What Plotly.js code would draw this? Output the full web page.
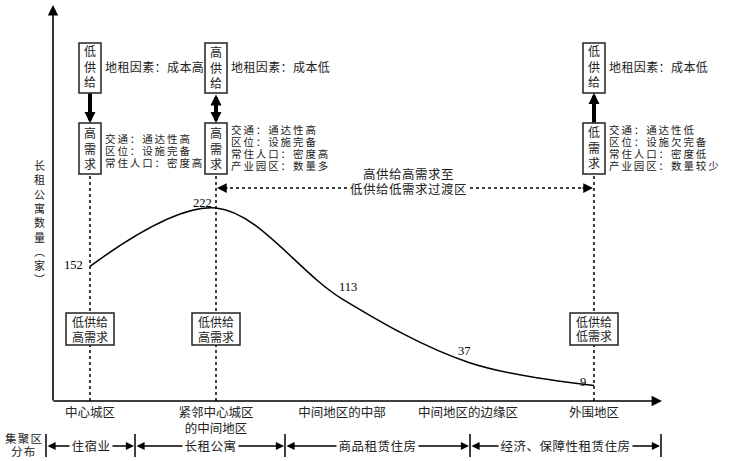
<!DOCTYPE html>
<html><head><meta charset="utf-8">
<script src="https://cdn.plot.ly/plotly-3.0.1.min.js"></script>
<style>html,body{margin:0;padding:0;background:#fff}</style>
</head><body>
<div id="chart" style="width:737px;height:461px"></div>
<script>
// ---------------- data ----------------
const regions = ['中心城区', '紧邻中心城区<br>的中间地区', '中间地区的中部', '中间地区的边缘区', '外围地区'];
const apartmentCounts = [152, 222, 113, 37, 9];
const yTitleText = '长租公寓数量︵家︶';
const zoneLabels = ['住宿业', '长租公寓', '商品租赁住房', '经济、保障性租赁住房'];
const zoneTitle = ['集聚区', '分布'];
const supplyTop = ['低供给', '高供给', '低供给'];
const demandTop = ['高需求', '高需求', '低需求'];
const rentNotes = ['地租因素：成本高', '地租因素：成本低', '地租因素：成本低'];
const demandNotes = [
  ['交通：通达性高', '区位：设施完备', '常住人口：密度高'],
  ['交通：通达性高', '区位：设施完备', '常住人口：密度高', '产业园区：数量多'],
  ['交通：通达性低', '区位：设施欠完备', '常住人口：密度低', '产业园区：数量较少']
];
const stateLabels = [['低供给', '高需求'], ['低供给', '高需求'], ['低供给', '低需求']];
const transitionLabel = ['高供给高需求至', '低供给低需求过渡区'];
const columnCategories = [0, 1, 4];   // which region each diagram column belongs to

// ---------------- geometry / style ----------------
const CJK = '"Liberation Sans", "Noto Sans CJK SC", sans-serif';
const SERIF = '"Liberation Serif", "DejaVu Serif", serif';
const INK = '#222';
const L = 53, R = 662, T = 6, B = 401;
const PW = R - L, PH = B - T;
const X0 = 90, XSTEP = 126;          // pixel of category 0, pixel per category
const catPx = i => X0 + XSTEP * i;
const Y0 = 393, YK = 0.8332;          // pixel of value 0, pixel per unit
const px = p => (p - L) / PW;
const py = p => (B - p) / PH;
const spaced = (s, ls) => '<span style="letter-spacing:' + ls + 'px">' + s + '</span>';

const idx = regions.map((_, i) => i);

const shapes = [];
const annotations = [];

function text(x, y, t, o) {
  o = o || {};
  annotations.push(Object.assign({
    xref: 'paper', yref: 'paper', x: px(x), y: py(y), text: t, showarrow: false,
    xanchor: o.xanchor || 'center', yanchor: 'middle', align: o.align || 'center',
    font: {family: CJK, size: o.size || 12.5, color: INK},
    borderpad: o.borderpad === undefined ? 0 : o.borderpad
  }, o.extra || {}));
}
function arrow(x1, y1, x2, y2, o) {
  o = o || {};
  annotations.push({
    xref: 'paper', yref: 'paper', x: px(x2), y: py(y2),
    axref: 'pixel', ayref: 'pixel', ax: x1 - x2, ay: y1 - y2,
    text: '', showarrow: true, arrowhead: 2, startarrowhead: 2,
    arrowside: o.side || 'end',
    arrowsize: o.size || 1, startarrowsize: o.size || 1,
    arrowwidth: o.width || 1.5, arrowcolor: '#000',
    standoff: 0, startstandoff: 0, font: {size: 1}, borderpad: 0
  });
}
function rect(x0, y0, x1, y1) {
  shapes.push({type: 'rect', xref: 'paper', yref: 'paper',
    x0: px(x0), x1: px(x1), y0: py(y1), y1: py(y0),
    line: {color: INK, width: 1.5}, fillcolor: '#fff', layer: 'above'});
}
function line(x0, y0, x1, y1, o) {
  o = o || {};
  shapes.push({type: 'line', xref: 'paper', yref: 'paper',
    x0: px(x0), x1: px(x1), y0: py(y0), y1: py(y1),
    line: {color: '#000', width: o.width || 1.5, dash: o.dash || 'solid'}, layer: 'above'});
}

// axes with arrows
arrow(L, B, L, T - 1, {width: 1.6, size: 1.3});
arrow(L, B, R, B, {width: 1.6, size: 1.3});

// vertical dotted guides (tied to the x scale)
columnCategories.forEach(c => {
  shapes.push({type: 'line', xref: 'x', yref: 'paper', x0: c, x1: c, y0: 0, y1: py(174),
    line: {color: '#000', width: 1.5, dash: 'dot'}, layer: 'above'});
});

// transition dotted arrow
line(catPx(1) + 8, 188, catPx(4) - 8, 188, {dash: 'dot'});
arrow(catPx(1) + 12, 188, catPx(1) + 1, 188, {width: 1.5, size: 1.3});
arrow(catPx(4) - 12, 188, catPx(4) - 1, 188, {width: 1.5, size: 1.3});
text(409, 175, spaced(transitionLabel[0], 0.5), {});
text(408, 189.5, spaced(transitionLabel[1], 0.5), {borderpad: 1, extra: {bgcolor: '#fff'}});

// top diagram columns
columnCategories.forEach((c, k) => {
  const cx = catPx(c);
  rect(cx - 11, 43, cx + 11, 93);
  rect(cx - 11, 123, cx + 11, 174);
  text(cx, 68, supplyTop[k].split('').join('<br>'), {size: 12});
  text(cx, 148.5, demandTop[k].split('').join('<br>'), {size: 12});
  text(cx + 14, 68, spaced(rentNotes[k], 0.4), {xanchor: 'left', size: 12});
  const n = demandNotes[k].length;
  const start = n === 3 ? 139 : 130;
  demandNotes[k].forEach((s, j) =>
    text(cx + 14, start + 12 * j, spaced(s, 1.9), {xanchor: 'left', size: 10.5}));
  // lower state boxes
  rect(cx - 24, 313, cx + 24, 345);
  text(cx, 322.5, stateLabels[k][0], {size: 12});
  text(cx, 337, stateLabels[k][1], {size: 12});
});
// thick relation arrows
arrow(catPx(0), 93, catPx(0), 123, {width: 4, size: 0.55});
arrow(catPx(1), 94, catPx(1), 123, {width: 4, size: 0.55, side: 'end+start'});
arrow(catPx(4), 123, catPx(4), 93, {width: 4, size: 0.55});

// y title (stacked vertical characters)
text(39, 222.5, yTitleText.split('').join('<br>'), {size: 11});

// bottom zone bar
const bounds = [46, 135, 285, 470, 661];
bounds.forEach(b => line(b, 434, b, 457, {width: 1.5}));
zoneLabels.forEach((z, i) => {
  const a = bounds[i] + 1, b = bounds[i + 1] - 1;
  arrow(a, 446, b, 446, {width: 1.3, size: 1.25, side: 'end+start'});
  text((a + b) / 2, 446, spaced(z, 0.5), {borderpad: 1.5, extra: {bgcolor: '#fff'}});
});
text(24, 438.5, spaced(zoneTitle[0], 1.3), {size: 11.5});
text(24, 451.5, spaced(zoneTitle[1], 1.3), {size: 11.5});

// value labels (data coords)
const labelShift = [[-5, 1, 'right'], [-2, 5, 'right'], [6, 12, 'center'], [-4, 11, 'center'], [-6, 4, 'right']];
apartmentCounts.forEach((v, i) => {
  annotations.push({xref: 'x', yref: 'y', x: i, y: v, text: String(v), showarrow: false,
    xanchor: labelShift[i][2], yanchor: 'middle', xshift: labelShift[i][0], yshift: labelShift[i][1],
    font: {family: SERIF, size: 12.5, color: '#000'}, borderpad: 1});
});

const xr = [(L - X0) / XSTEP, (R - X0) / XSTEP];
const yr = [(Y0 - B) / YK, (Y0 - T) / YK];

const trace = {
  type: 'scatter', mode: 'lines', x: idx, y: apartmentCounts,
  line: {shape: 'spline', smoothing: 1, color: '#000', width: 1.5},
  hoverinfo: 'skip', cliponaxis: false
};

const layout = {
  width: 737, height: 461,
  margin: {l: L, r: 737 - R, t: T, b: 461 - B},
  paper_bgcolor: '#fff', plot_bgcolor: '#fff',
  showlegend: false,
  xaxis: {range: xr, tickmode: 'array', tickvals: idx, ticktext: regions, ticks: '',
    ticklabelstandoff: 2,
    showgrid: false, zeroline: false, showline: false, automargin: false, fixedrange: true,
    tickfont: {family: CJK, size: 12.5, color: INK}},
  yaxis: {range: yr, showticklabels: false, ticks: '', showgrid: false, zeroline: false,
    showline: false, automargin: false, fixedrange: true},
  shapes: shapes,
  annotations: annotations
};

Plotly.newPlot('chart', [trace], layout, {displayModeBar: false, staticPlot: true});
</script>
</body></html>
